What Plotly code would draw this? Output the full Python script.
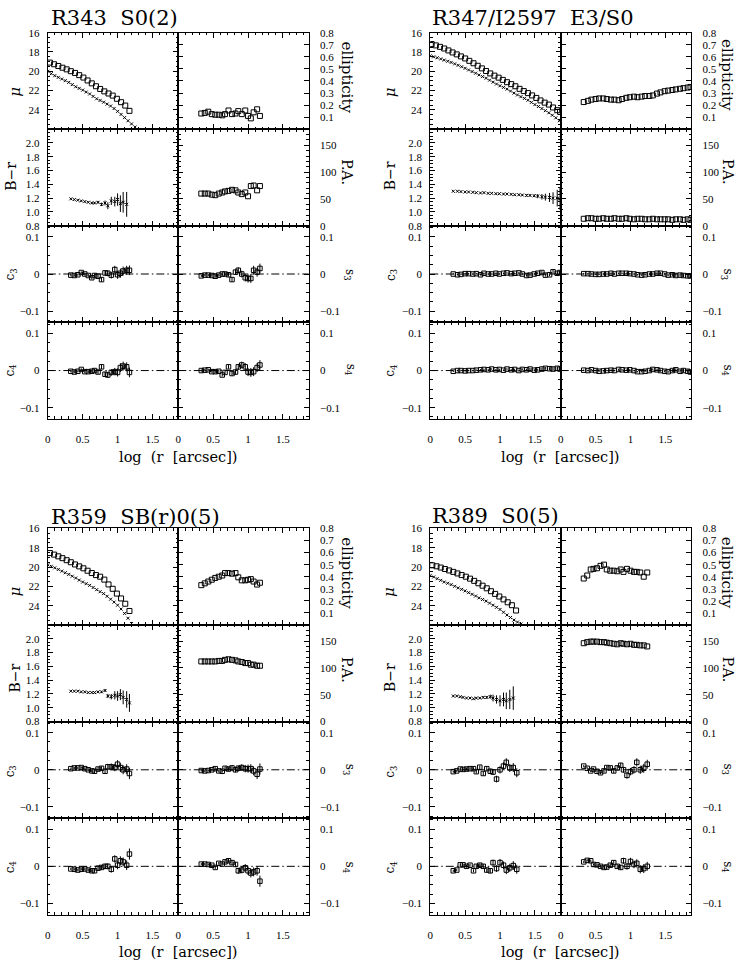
import plotly.graph_objects as go

W, H = 736, 968
PW, PH = 131.0, 97.75
XMAX = 1.87
FONT = "DejaVu Serif"
TICKFONT = "Liberation Serif"

# ---------------- R343 S0(2) ----------------
g1_x_mu_sq = [0.03, 0.09, 0.15, 0.21, 0.27, 0.33, 0.39, 0.45, 0.51, 0.57, 0.63, 0.69, 0.75, 0.81, 0.87, 0.93, 0.99, 1.05, 1.11, 1.17]
g1_mu_sq = [19.10, 19.27, 19.45, 19.63, 19.80, 19.99, 20.17, 20.40, 20.65, 20.95, 21.25, 21.55, 21.83, 22.08, 22.30, 22.52, 22.85, 23.20, 23.55, 24.10]
g1_x_mu_cr = [0.00, 0.05, 0.10, 0.15, 0.20, 0.25, 0.30, 0.35, 0.40, 0.45, 0.50, 0.55, 0.60, 0.65, 0.70, 0.75, 0.80, 0.85, 0.90, 0.95, 1.00, 1.05, 1.10, 1.15, 1.20, 1.25]
g1_mu_cr = [20.00, 20.25, 20.45, 20.63, 20.80, 20.97, 21.15, 21.38, 21.60, 21.77, 21.95, 22.15, 22.35, 22.60, 22.85, 23.02, 23.20, 23.40, 23.60, 23.86, 24.15, 24.47, 24.80, 25.12, 25.45, 25.78]
g1_x = [0.33, 0.38, 0.43, 0.48, 0.53, 0.58, 0.63, 0.67, 0.72, 0.77, 0.82, 0.86, 0.91, 0.96, 1.00, 1.04, 1.08, 1.13, 1.17]
g1_ell = [0.130, 0.135, 0.145, 0.125, 0.120, 0.120, 0.115, 0.125, 0.155, 0.125, 0.130, 0.150, 0.125, 0.155, 0.110, 0.090, 0.140, 0.165, 0.110]
g1_pa = [60, 60, 60, 58, 57, 60, 62, 64, 65, 67, 66, 62, 59, 62, 55, 74, 75, 66, 74]
g1_br = [1.19, 1.18, 1.17, 1.16, 1.15, 1.14, 1.13, 1.13, 1.14, 1.11, 1.13, 1.09, 1.16, 1.15, 1.18, 1.12, 1.14, 1.11]
g1_br_err = [0.005, 0.005, 0.006, 0.007, 0.008, 0.010, 0.012, 0.014, 0.020, 0.025, 0.035, 0.050, 0.060, 0.070, 0.090, 0.120, 0.150, 0.180]
g1_c3 = [-0.003, -0.004, -0.002, 0.004, 0.000, -0.004, -0.010, -0.004, -0.006, -0.015, 0.003, 0.002, -0.003, 0.012, -0.002, 0.002, 0.008, 0.010, 0.010]
g1_s3 = [-0.005, -0.003, -0.003, -0.004, -0.006, -0.003, 0.000, 0.000, -0.002, -0.015, 0.005, 0.010, 0.000, -0.010, -0.012, -0.012, 0.010, 0.005, 0.015]
g1_c4 = [-0.002, -0.004, -0.002, 0.003, -0.003, -0.003, -0.002, 0.000, -0.004, 0.010, -0.010, -0.012, -0.005, -0.003, -0.005, 0.008, 0.012, 0.010, -0.005]
g1_s4 = [0.000, 0.001, 0.002, -0.003, -0.003, -0.002, -0.012, -0.005, 0.010, -0.008, -0.004, 0.010, 0.015, 0.010, -0.004, -0.005, -0.003, 0.008, 0.015]
g1_h_err = [0.003, 0.003, 0.003, 0.003, 0.004, 0.004, 0.004, 0.005, 0.005, 0.006, 0.007, 0.008, 0.009, 0.010, 0.011, 0.012, 0.012, 0.012, 0.013]

# ---------------- R347/I2597 E3/S0 ----------------
g2_x_mu_sq = [0.02, 0.08, 0.14, 0.20, 0.26, 0.32, 0.38, 0.44, 0.50, 0.56, 0.62, 0.68, 0.74, 0.80, 0.86, 0.92, 0.98, 1.04, 1.10, 1.16, 1.22, 1.28, 1.34, 1.40, 1.46, 1.52, 1.58, 1.64, 1.70, 1.76, 1.82, 1.86]
g2_mu_sq = [17.18, 17.32, 17.47, 17.64, 17.84, 18.05, 18.25, 18.46, 18.67, 18.92, 19.17, 19.43, 19.70, 19.97, 20.22, 20.45, 20.66, 20.89, 21.13, 21.33, 21.55, 21.82, 22.05, 22.26, 22.50, 22.76, 23.02, 23.25, 23.45, 23.75, 24.03, 24.20]
g2_x_mu_cr = [0.00, 0.05, 0.10, 0.15, 0.20, 0.25, 0.30, 0.35, 0.40, 0.45, 0.50, 0.55, 0.60, 0.65, 0.70, 0.75, 0.80, 0.85, 0.90, 0.95, 1.00, 1.05, 1.10, 1.15, 1.20, 1.25, 1.30, 1.35, 1.40, 1.45, 1.50, 1.55, 1.60, 1.65, 1.70, 1.75, 1.80, 1.85]
g2_mu_cr = [18.40, 18.50, 18.60, 18.72, 18.84, 18.96, 19.08, 19.23, 19.38, 19.53, 19.69, 19.86, 20.03, 20.20, 20.38, 20.55, 20.72, 20.92, 21.13, 21.32, 21.50, 21.67, 21.85, 22.05, 22.26, 22.45, 22.63, 22.81, 23.00, 23.22, 23.45, 23.65, 23.86, 24.08, 24.30, 24.55, 24.82, 25.12]
g2_x = [0.33, 0.39, 0.44, 0.50, 0.55, 0.61, 0.66, 0.72, 0.77, 0.83, 0.88, 0.94, 0.99, 1.05, 1.10, 1.16, 1.21, 1.27, 1.32, 1.38, 1.43, 1.49, 1.54, 1.60, 1.65, 1.71, 1.76, 1.82, 1.86]
g2_ell = [0.225, 0.235, 0.245, 0.250, 0.255, 0.255, 0.250, 0.245, 0.245, 0.240, 0.250, 0.260, 0.265, 0.270, 0.265, 0.270, 0.275, 0.275, 0.280, 0.295, 0.305, 0.315, 0.320, 0.325, 0.330, 0.335, 0.340, 0.345, 0.350]
g2_pa = [13, 14, 14, 13, 13, 14, 13, 13, 14, 13, 13, 14, 13, 12, 13, 13, 12, 12, 13, 12, 12, 12, 12, 11, 12, 12, 11, 12, 11]
g2_br = [1.300, 1.300, 1.295, 1.290, 1.290, 1.285, 1.280, 1.275, 1.280, 1.270, 1.270, 1.265, 1.265, 1.260, 1.260, 1.255, 1.250, 1.250, 1.245, 1.240, 1.240, 1.235, 1.230, 1.220, 1.215, 1.210, 1.200, 1.200, 1.190]
g2_br_err = [0.004, 0.004, 0.004, 0.004, 0.005, 0.005, 0.005, 0.005, 0.006, 0.006, 0.006, 0.007, 0.007, 0.008, 0.008, 0.009, 0.010, 0.011, 0.012, 0.014, 0.016, 0.020, 0.030, 0.040, 0.050, 0.065, 0.085, 0.120, 0.160]
g2_c3 = [0.000, -0.002, -0.001, 0.001, 0.001, 0.000, 0.001, -0.002, 0.002, 0.000, 0.000, 0.002, 0.000, 0.002, 0.003, 0.001, 0.002, 0.003, 0.000, -0.004, -0.003, 0.000, 0.002, 0.004, -0.003, -0.002, 0.006, 0.002, 0.004]
g2_s3 = [0.001, 0.001, 0.000, -0.001, -0.001, 0.000, 0.000, 0.002, 0.000, 0.002, 0.002, 0.002, 0.001, 0.000, -0.002, -0.003, -0.002, 0.000, 0.000, 0.002, 0.002, 0.000, -0.003, -0.002, -0.004, -0.003, -0.004, -0.005, -0.005]
g2_c4 = [-0.002, 0.000, 0.000, -0.001, 0.000, 0.000, 0.001, 0.002, 0.003, 0.002, 0.004, 0.002, 0.003, 0.001, 0.004, 0.002, 0.003, 0.000, 0.003, 0.002, 0.004, 0.001, 0.002, 0.004, 0.006, 0.005, 0.004, 0.006, 0.004]
g2_s4 = [0.001, 0.000, 0.002, 0.000, -0.002, -0.001, 0.000, 0.001, 0.000, 0.003, 0.002, 0.001, 0.002, 0.000, -0.003, -0.003, -0.002, 0.000, 0.003, 0.002, 0.000, -0.002, -0.003, 0.000, 0.002, -0.002, 0.000, -0.002, -0.004]
g2_h_err = [0.002, 0.002, 0.002, 0.002, 0.002, 0.002, 0.002, 0.002, 0.002, 0.002, 0.002, 0.002, 0.002, 0.002, 0.002, 0.002, 0.002, 0.003, 0.003, 0.003, 0.003, 0.003, 0.003, 0.004, 0.004, 0.004, 0.005, 0.005, 0.006]

# ---------------- R359 SB(r)0(5) ----------------
g3_x_mu_sq = [0.03, 0.09, 0.15, 0.21, 0.27, 0.33, 0.39, 0.45, 0.51, 0.57, 0.63, 0.69, 0.75, 0.81, 0.87, 0.93, 0.99, 1.05, 1.11, 1.17]
g3_mu_sq = [18.55, 18.71, 18.89, 19.08, 19.29, 19.50, 19.73, 19.93, 20.13, 20.38, 20.62, 20.83, 21.00, 21.30, 21.80, 22.25, 22.75, 23.25, 23.80, 24.55]
g3_x_mu_cr = [0.00, 0.05, 0.10, 0.15, 0.20, 0.25, 0.30, 0.35, 0.40, 0.45, 0.50, 0.55, 0.60, 0.65, 0.70, 0.75, 0.80, 0.85, 0.90, 0.95, 1.00, 1.05, 1.10, 1.15, 1.20]
g3_mu_cr = [19.77, 19.92, 20.08, 20.25, 20.42, 20.59, 20.76, 20.95, 21.14, 21.35, 21.55, 21.72, 21.90, 22.12, 22.34, 22.55, 22.75, 23.03, 23.33, 23.63, 23.95, 24.35, 24.80, 25.30, 25.85]
g3_x = [0.33, 0.38, 0.43, 0.48, 0.53, 0.58, 0.63, 0.67, 0.72, 0.77, 0.82, 0.86, 0.91, 0.96, 1.00, 1.04, 1.08, 1.13, 1.17]
g3_ell = [0.330, 0.345, 0.360, 0.375, 0.390, 0.400, 0.410, 0.430, 0.430, 0.425, 0.430, 0.395, 0.370, 0.370, 0.375, 0.380, 0.360, 0.335, 0.350]
g3_pa = [112, 112, 112, 112, 112, 113, 113, 115, 116, 115, 114, 112, 111, 109, 109, 106, 106, 104, 104]
g3_br = [1.24, 1.24, 1.24, 1.23, 1.23, 1.22, 1.22, 1.22, 1.23, 1.23, 1.25, 1.17, 1.16, 1.18, 1.17, 1.19, 1.15, 1.12, 1.07]
g3_br_err = [0.004, 0.004, 0.005, 0.005, 0.006, 0.007, 0.008, 0.010, 0.012, 0.014, 0.020, 0.030, 0.040, 0.060, 0.070, 0.080, 0.100, 0.120, 0.130]
g3_c3 = [0.003, 0.005, 0.005, 0.006, 0.003, 0.000, -0.003, -0.004, 0.002, 0.004, -0.004, 0.008, 0.008, 0.006, 0.015, 0.006, 0.000, 0.002, -0.010]
g3_s3 = [-0.002, -0.003, -0.002, 0.000, 0.003, -0.003, -0.004, 0.004, 0.002, 0.005, 0.000, 0.004, 0.006, 0.003, 0.003, 0.003, -0.003, -0.012, 0.002]
g3_c4 = [-0.007, -0.008, -0.010, -0.008, -0.007, -0.010, -0.012, -0.012, -0.005, -0.003, 0.000, 0.000, -0.008, 0.020, 0.003, 0.015, 0.012, 0.003, 0.033]
g3_s4 = [0.006, 0.006, 0.005, 0.003, -0.003, 0.008, 0.006, 0.012, 0.015, 0.010, 0.005, -0.012, -0.010, -0.004, -0.012, -0.018, -0.015, -0.012, -0.040]
g3_h_err = [0.003, 0.003, 0.003, 0.003, 0.004, 0.004, 0.004, 0.005, 0.005, 0.006, 0.007, 0.008, 0.009, 0.010, 0.011, 0.012, 0.012, 0.013, 0.015]

# ---------------- R389 S0(5) ----------------
g4_x_mu_sq = [0.03, 0.09, 0.15, 0.21, 0.27, 0.33, 0.39, 0.45, 0.51, 0.57, 0.63, 0.69, 0.75, 0.81, 0.87, 0.93, 0.99, 1.05, 1.11, 1.17, 1.23]
g4_mu_sq = [19.82, 19.92, 20.05, 20.20, 20.35, 20.50, 20.66, 20.83, 21.00, 21.20, 21.43, 21.68, 21.93, 22.20, 22.50, 22.78, 23.05, 23.35, 23.65, 23.95, 24.50]
g4_x_mu_cr = [0.00, 0.05, 0.10, 0.15, 0.20, 0.25, 0.30, 0.35, 0.40, 0.45, 0.50, 0.55, 0.60, 0.65, 0.70, 0.75, 0.80, 0.85, 0.90, 0.95, 1.00, 1.05, 1.10, 1.15, 1.20, 1.25, 1.30]
g4_mu_cr = [20.86, 21.03, 21.20, 21.38, 21.55, 21.68, 21.82, 21.99, 22.16, 22.31, 22.47, 22.65, 22.82, 23.00, 23.19, 23.36, 23.53, 23.74, 23.95, 24.17, 24.39, 24.68, 24.97, 25.23, 25.49, 25.70, 25.90]
g4_x = [0.33, 0.38, 0.43, 0.47, 0.52, 0.57, 0.62, 0.66, 0.71, 0.76, 0.81, 0.86, 0.90, 0.95, 1.00, 1.05, 1.09, 1.14, 1.19, 1.24]
g4_ell = [0.385, 0.410, 0.460, 0.465, 0.470, 0.490, 0.500, 0.460, 0.450, 0.450, 0.445, 0.460, 0.440, 0.465, 0.450, 0.440, 0.440, 0.435, 0.400, 0.435]
g4_pa = [146, 148, 149, 149, 149, 148, 148, 147, 146, 145, 144, 146, 145, 144, 145, 143, 143, 142, 142, 140]
g4_br = [1.17, 1.17, 1.16, 1.15, 1.14, 1.14, 1.13, 1.14, 1.14, 1.15, 1.15, 1.16, 1.14, 1.12, 1.10, 1.12, 1.10, 1.12, 1.14]
g4_br_err = [0.005, 0.005, 0.005, 0.006, 0.006, 0.007, 0.008, 0.010, 0.012, 0.015, 0.020, 0.030, 0.050, 0.060, 0.080, 0.100, 0.120, 0.140, 0.170]
g4_c3 = [-0.005, -0.003, 0.002, 0.001, 0.002, 0.003, 0.003, -0.005, 0.007, -0.010, 0.003, -0.004, -0.006, -0.025, 0.000, 0.010, 0.020, 0.005, 0.006, -0.008]
g4_s3 = [0.010, 0.004, -0.003, 0.002, -0.004, -0.008, -0.003, 0.006, 0.005, -0.003, 0.005, 0.012, 0.000, -0.015, -0.005, 0.000, 0.020, 0.000, 0.004, 0.015]
g4_c4 = [-0.012, -0.010, 0.004, 0.004, 0.000, 0.003, -0.012, 0.000, 0.003, 0.000, -0.010, -0.012, 0.010, -0.006, 0.010, 0.003, -0.010, -0.004, 0.002, -0.008]
g4_s4 = [0.012, 0.016, 0.015, 0.005, 0.004, 0.000, -0.003, -0.002, 0.003, 0.010, 0.000, -0.003, 0.015, 0.000, 0.013, 0.005, 0.008, -0.008, -0.006, 0.000]
g4_h_err = [0.003, 0.003, 0.003, 0.003, 0.004, 0.004, 0.004, 0.005, 0.005, 0.006, 0.006, 0.007, 0.008, 0.009, 0.010, 0.010, 0.011, 0.011, 0.012, 0.012]

x_ticks = [0, 0.5, 1, 1.5]
x_ticktext = ["0", "0.5", "1", "1.5"]

galaxies = [
    dict(title="R343\u00a0 S0(2)", left=45, top=27, tpos=(46, 12), xt=(176, 457),
         xmusq=g1_x_mu_sq, musq=g1_mu_sq, xmucr=g1_x_mu_cr, mucr=g1_mu_cr,
         x=g1_x, ell=g1_ell, pa=g1_pa, br=g1_br, brerr=g1_br_err,
         c3=g1_c3, s3=g1_s3, c4=g1_c4, s4=g1_s4, herr=g1_h_err,
         ll=[(12, 87), (8, 172), (8, 272), (8, 369)],
         rl=[(345, 72), (345, 168), (348, 272), (348, 368)]),
    dict(title="R347/I2597\u00a0 E3/S0", left=429, top=27, tpos=(429, 12), xt=(560, 457),
         xmusq=g2_x_mu_sq, musq=g2_mu_sq, xmucr=g2_x_mu_cr, mucr=g2_mu_cr,
         x=g2_x, ell=g2_ell, pa=g2_pa, br=g2_br, brerr=g2_br_err,
         c3=g2_c3, s3=g2_s3, c4=g2_c4, s4=g2_s4, herr=g2_h_err,
         ll=[(389, 87), (388, 172), (390, 272), (390, 369)],
         rl=[(727, 70), (728, 168), (727, 272), (727, 369)]),
    dict(title="R359\u00a0 SB(r)0(5)", left=45, top=529, tpos=(46, 517), xt=(176, 958),
         xmusq=g3_x_mu_sq, musq=g3_mu_sq, xmucr=g3_x_mu_cr, mucr=g3_mu_cr,
         x=g3_x, ell=g3_ell, pa=g3_pa, br=g3_br, brerr=g3_br_err,
         c3=g3_c3, s3=g3_s3, c4=g3_c4, s4=g3_s4, herr=g3_h_err,
         ll=[(12, 593), (12, 680), (8, 775), (8, 872)],
         rl=[(346, 574), (346, 672), (347, 773), (347, 872)]),
    dict(title="R389\u00a0 S0(5)", left=429, top=529, tpos=(429, 516), xt=(560, 958),
         xmusq=g4_x_mu_sq, musq=g4_mu_sq, xmucr=g4_x_mu_cr, mucr=g4_mu_cr,
         x=g4_x, ell=g4_ell, pa=g4_pa, br=g4_br, brerr=g4_br_err,
         c3=g4_c3, s3=g4_s3, c4=g4_c4, s4=g4_s4, herr=g4_h_err,
         ll=[(387, 593), (388, 680), (390, 775), (390, 872)],
         rl=[(727, 574), (728, 672), (727, 773), (727, 872)]),
]

left_labels = [("<i>μ</i>", 15), ("B−r", 14), ("c<sub>3</sub>", 12), ("c<sub>4</sub>", 12)]
right_labels = [("ellipticity", 15), ("P.A.", 14), ("s<sub>3</sub>", 12), ("s<sub>4</sub>", 12)]


def minor_vals(lo, hi, step):
    n = int(round((hi - lo) / step))
    return [round(lo + i * step, 4) for i in range(n + 1)]


harm_ticks = dict(range=[-0.13, 0.13], tickvals=[-0.1, 0, 0.1], ticktext=["−0.1", "0", "0.1"],
                  minor=minor_vals(-0.125, 0.125, 0.025))
ycfg = {
    (0, 0): dict(range=[26, 16], tickvals=[16, 18, 20, 22, 24], ticktext=["16", "18", "20", "22", "24"],
                 minor=minor_vals(16, 26, 0.5)),
    (0, 1): dict(range=[0, 0.8], tickvals=[0.1, 0.2, 0.3, 0.4, 0.5, 0.6, 0.7, 0.8],
                 ticktext=["0.1", "0.2", "0.3", "0.4", "0.5", "0.6", "0.7", "0.8"], minor=[]),
    (1, 0): dict(range=[0.8, 2.2], tickvals=[0.8, 1.0, 1.2, 1.4, 1.6, 1.8, 2.0],
                 ticktext=["0.8", "1.0", "1.2", "1.4", "1.6", "1.8", "2.0"], minor=minor_vals(0.8, 2.2, 0.05)),
    (1, 1): dict(range=[0, 180], tickvals=[0, 50, 100, 150], ticktext=["0", "50", "100", "150"],
                 minor=minor_vals(0, 180, 10)),
    (2, 0): harm_ticks, (2, 1): harm_ticks, (3, 0): harm_ticks, (3, 1): harm_ticks,
}
x_minor = minor_vals(0, 1.8, 0.1)

sq = dict(symbol="square-open", size=5, color="black", line=dict(width=1, color="black"))
cr = dict(symbol="x-thin-open", size=3, color="black", line=dict(width=1, color="black"))
sq_small = dict(symbol="square-open", size=4.5, color="black", line=dict(width=1, color="black"))

fig = go.Figure()
layout = {}
shapes = []
annotations = []
tickfont = dict(family=TICKFONT, size=11, color="black")


def px2paper(px, py):
    return px / W, 1 - py / H


for gi, g in enumerate(galaxies):
    for r in range(4):
        for c in range(2):
            idx = gi * 8 + r * 2 + c + 1
            x0 = g["left"] + c * PW
            y0 = g["top"] + r * PH
            xd = [x0 / W, (x0 + PW) / W]
            yd = [1 - (y0 + PH) / H, 1 - y0 / H]
            xname = "xaxis" if idx == 1 else f"xaxis{idx}"
            yname = "yaxis" if idx == 1 else f"yaxis{idx}"
            layout[xname] = dict(
                domain=xd, range=[0, XMAX], anchor=f"y{idx}", showline=True, linecolor="black",
                linewidth=1, mirror="allticks", ticks="inside", ticklen=5, tickwidth=1, tickcolor="black",
                tickmode="array", tickvals=x_ticks, ticktext=x_ticktext, showticklabels=(r == 3),
                tickfont=tickfont, ticklabelstandoff=10,
                minor=dict(ticks="inside", ticklen=2.5, tickmode="array", tickvals=x_minor,
                           tickcolor="black", tickwidth=1, showgrid=False),
                showgrid=False, zeroline=False, fixedrange=True)
            yc = ycfg[(r, c)]
            ycfg_d = dict(
                domain=yd, range=yc["range"], anchor=f"x{idx}", side=("left" if c == 0 else "right"),
                showline=True, linecolor="black", linewidth=1, mirror="allticks", ticks="inside",
                ticklen=5, tickwidth=1, tickcolor="black", tickmode="array", tickvals=yc["tickvals"],
                ticktext=yc["ticktext"], tickfont=tickfont, ticklabelstandoff=(5 if c == 0 else 8),
                showgrid=False, zeroline=False, fixedrange=True)
            if yc["minor"]:
                ycfg_d["minor"] = dict(ticks="inside", ticklen=2.5, tickmode="array", tickvals=yc["minor"],
                                       tickcolor="black", tickwidth=1, showgrid=False)
            layout[yname] = ycfg_d
            xa, ya = f"x{idx}", f"y{idx}"
            if r == 0 and c == 0:
                fig.add_trace(go.Scatter(x=g["xmucr"], y=g["mucr"], mode="markers", marker=cr, xaxis=xa, yaxis=ya))
                fig.add_trace(go.Scatter(x=g["xmusq"], y=g["musq"], mode="markers", marker=sq, xaxis=xa, yaxis=ya))
            elif r == 0 and c == 1:
                fig.add_trace(go.Scatter(x=g["x"], y=g["ell"], mode="markers", marker=sq, xaxis=xa, yaxis=ya))
            elif r == 1 and c == 0:
                n = len(g["br"])
                fig.add_trace(go.Scatter(x=g["x"][:n], y=g["br"], mode="markers", marker=cr,
                                         error_y=dict(type="data", array=g["brerr"], width=0, thickness=1, color="black"),
                                         xaxis=xa, yaxis=ya))
            elif r == 1 and c == 1:
                fig.add_trace(go.Scatter(x=g["x"], y=g["pa"], mode="markers", marker=sq, xaxis=xa, yaxis=ya))
            else:
                key = {(2, 0): "c3", (2, 1): "s3", (3, 0): "c4", (3, 1): "s4"}[(r, c)]
                shapes.append(dict(type="line", xref=f"{xa} domain", yref=ya, x0=0, x1=1, y0=0, y1=0,
                                   line=dict(color="black", width=1, dash="8px,3px,1.5px,3px"), layer="below"))
                fig.add_trace(go.Scatter(x=g["x"], y=g[key], mode="markers", marker=sq_small,
                                         error_y=dict(type="data", array=g["herr"], width=0, thickness=1, color="black"),
                                         xaxis=xa, yaxis=ya))

    tx, ty = px2paper(*g["tpos"])
    annotations.append(dict(text=g["title"], x=tx, y=ty, xref="paper", yref="paper", xanchor="left",
                            yanchor="middle", showarrow=False, font=dict(family=FONT, size=21, color="black")))
    xx, xy = px2paper(*g["xt"])
    annotations.append(dict(text="log\u00a0 (r\u00a0 [arcsec])", x=xx, y=xy, xref="paper", yref="paper",
                            xanchor="center", yanchor="middle", showarrow=False,
                            font=dict(family=FONT, size=14.5, color="black")))
    for (txt, sz), pos in zip(left_labels, g["ll"]):
        ax_, ay_ = px2paper(*pos)
        annotations.append(dict(text=txt, x=ax_, y=ay_, xref="paper", yref="paper", xanchor="center",
                                yanchor="middle", textangle=-90, showarrow=False,
                                font=dict(family=FONT, size=sz, color="black")))
    for (txt, sz), pos in zip(right_labels, g["rl"]):
        ax_, ay_ = px2paper(*pos)
        annotations.append(dict(text=txt, x=ax_, y=ay_, xref="paper", yref="paper", xanchor="center",
                                yanchor="middle", textangle=90, showarrow=False,
                                font=dict(family=FONT, size=sz, color="black")))

fig.update_layout(**layout)
fig.update_layout(width=W, height=H, margin=dict(l=0, r=0, t=0, b=0), autosize=False,
                  paper_bgcolor="white", plot_bgcolor="white", showlegend=False, hovermode=False,
                  shapes=shapes, annotations=annotations, font=dict(family=FONT, color="black"))

fig.write_html("out.html", config={"displayModeBar": False, "staticPlot": True},
               post_script="document.body.style.margin='0';document.body.style.padding='0';"
                           "document.documentElement.style.overflow='hidden';")
